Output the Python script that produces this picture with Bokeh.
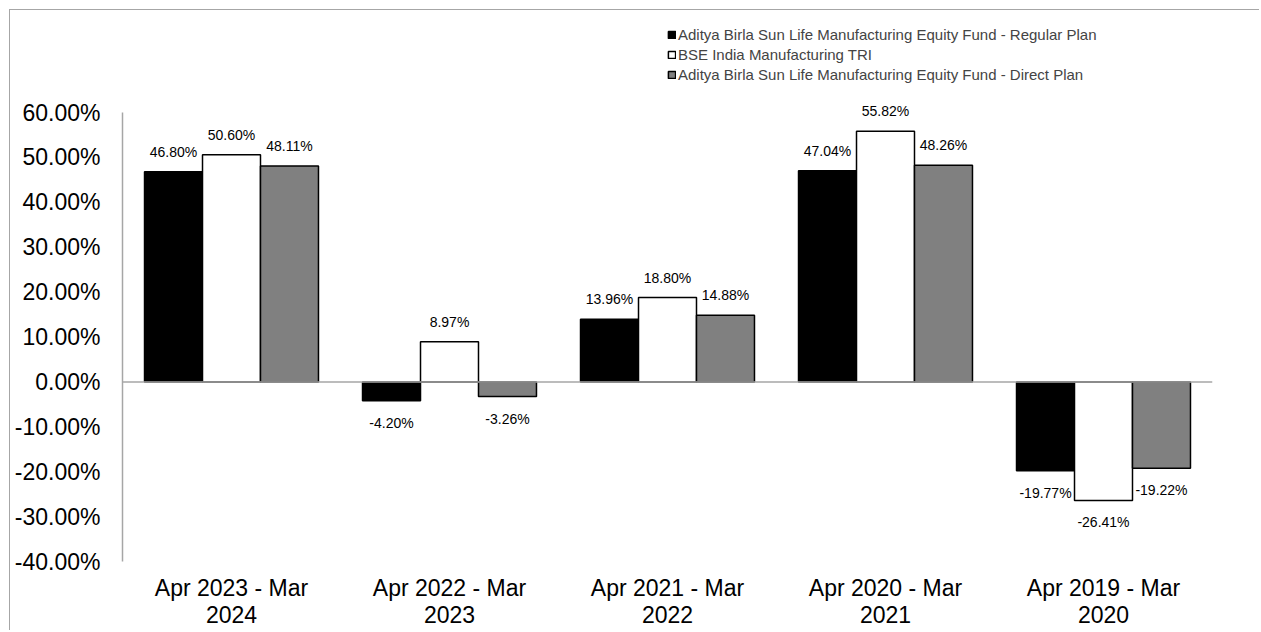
from bokeh.plotting import figure
from bokeh.models import (ColumnDataSource, FactorRange, FixedTicker, Span, Legend,
                          LegendItem, LabelSet)
from bokeh.transform import dodge
from bokeh.core.properties import value
from bokeh.embed import file_html
from bokeh.resources import INLINE

categories = ["Apr 2023 - Mar\n2024", "Apr 2022 - Mar\n2023", "Apr 2021 - Mar\n2022",
              "Apr 2020 - Mar\n2021", "Apr 2019 - Mar\n2020"]
series_names = ["Aditya Birla Sun Life Manufacturing Equity Fund - Regular Plan",
                "BSE India Manufacturing TRI",
                "Aditya Birla Sun Life Manufacturing Equity Fund - Direct Plan"]
regular = [46.80, -4.20, 13.96, 47.04, -19.77]
tri = [50.60, 8.97, 18.80, 55.82, -26.41]
direct = [48.11, -3.26, 14.88, 48.26, -19.22]
y_ticks = [-40, -30, -20, -10, 0, 10, 20, 30, 40, 50, 60]
y_tick_labels = ["-40.00%", "-30.00%", "-20.00%", "-10.00%", "0.00%", "10.00%",
                 "20.00%", "30.00%", "40.00%", "50.00%", "60.00%"]

colors = ["#000000", "#ffffff", "#808080"]
series = [regular, tri, direct]
offsets = [-0.266, 0.0, 0.266]
bar_w = 0.266

FONT = "Liberation Sans"

p = figure(x_range=FactorRange(*categories), y_range=(-40, 82.3),
           width=1250, height=621, output_backend="svg", toolbar_location=None,
           min_border_left=112, min_border_right=48, min_border_top=2,
           min_border_bottom=70)
p.styles = {"border-left": "1.5px solid #a6a6a6", "border-top": "1.5px solid #a6a6a6",
            "margin-left": "9px", "margin-top": "9px"}
p.outline_line_color = None
p.grid.grid_line_color = None
p.background_fill_color = "white"
p.border_fill_color = "white"

items = []
for name, vals, col, off in zip(series_names, series, colors, offsets):
    src = ColumnDataSource(dict(cat=categories, val=vals))
    r = p.vbar(x=dodge("cat", off, range=p.x_range), top="val", bottom=0, width=bar_w,
               source=src, fill_color=col, line_color="black", line_width=1.5)
    items.append(LegendItem(label=name, renderers=[r]))
    pos_src = ColumnDataSource(dict(cat=[c for c, v in zip(categories, vals) if v >= 0],
                                    val=[v for v in vals if v >= 0],
                                    lab=[f"{v:.2f}%" for v in vals if v >= 0]))
    neg_src = ColumnDataSource(dict(cat=[c for c, v in zip(categories, vals) if v < 0],
                                    val=[v for v in vals if v < 0],
                                    lab=[f"{v:.2f}%" for v in vals if v < 0]))
    p.add_layout(LabelSet(x=dodge("cat", off, range=p.x_range), y="val", text="lab",
                          source=pos_src, text_align="center", text_baseline="bottom",
                          y_offset=12, text_font=value(FONT), text_font_size=value("14px"),
                          text_color="black"))
    p.add_layout(LabelSet(x=dodge("cat", off, range=p.x_range), y="val", text="lab",
                          source=neg_src, text_align="center", text_baseline="top",
                          y_offset=-14, text_font=value(FONT), text_font_size=value("14px"),
                          text_color="black"))

p.add_layout(Span(location=0, dimension="width", line_color="#a6a6a6", line_width=1.5))

p.yaxis.bounds = (-40, 60)
p.yaxis.ticker = FixedTicker(ticks=y_ticks)
p.yaxis.major_label_overrides = {t: l for t, l in zip(y_ticks, y_tick_labels)}
p.yaxis.major_tick_line_color = None
p.yaxis.minor_tick_line_color = None
p.yaxis.major_tick_out = 0
p.yaxis.major_tick_in = 0
p.yaxis.axis_line_color = "#a6a6a6"
p.yaxis.axis_line_width = 1.5
p.yaxis.major_label_text_font = FONT
p.yaxis.major_label_text_font_size = "23px"
p.yaxis.major_label_text_color = "black"
p.yaxis.major_label_standoff = 22

p.xaxis.axis_line_color = None
p.xaxis.major_tick_line_color = None
p.xaxis.minor_tick_line_color = None
p.xaxis.major_tick_out = 0
p.xaxis.major_tick_in = 0
p.xaxis.major_label_text_font = FONT
p.xaxis.major_label_text_font_size = "23px"
p.xaxis.major_label_text_line_height = 1.05
p.xaxis.major_label_text_color = "black"
p.xaxis.major_label_standoff = 13

legend = Legend(items=items, location=(545, 477), orientation="vertical",
                label_text_font=FONT, label_text_font_size="15px",
                glyph_width=9, glyph_height=9, label_height=20, spacing=0,
                label_standoff=2, padding=0, margin=0, border_line_color=None,
                background_fill_alpha=0)
p.add_layout(legend, "center")

open("out.html", "w").write(file_html(p, INLINE))
